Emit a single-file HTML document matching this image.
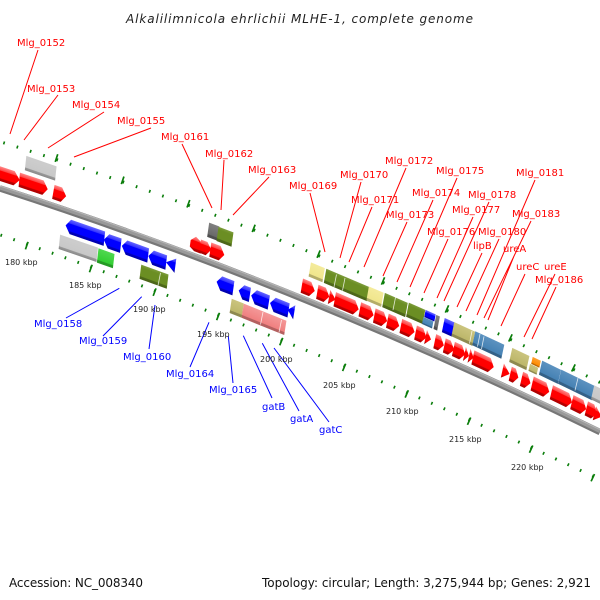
<!DOCTYPE html>
<html><head><meta charset="utf-8"><style>html,body{margin:0;padding:0;background:#fff}svg{display:block}text{font-family:"DejaVu Sans","Liberation Sans",sans-serif}.r text{fill:#f00;font-size:10px}.b text{fill:#00f;font-size:10px}.k text{fill:#222;font-size:8px}</style></head><body>
<svg width="600" height="600" viewBox="0 0 600 600" xmlns="http://www.w3.org/2000/svg">
<defs>
<linearGradient id="R" x1="0" y1="0" x2="0" y2="1"><stop offset="0" stop-color="#f88"/><stop offset=".26" stop-color="#f44"/><stop offset=".3" stop-color="#f00"/><stop offset=".78" stop-color="#f00"/><stop offset=".84" stop-color="#b00"/><stop offset="1" stop-color="#a00"/></linearGradient>
<linearGradient id="B" x1="0" y1="0" x2="0" y2="1"><stop offset="0" stop-color="#66f"/><stop offset=".26" stop-color="#33f"/><stop offset=".3" stop-color="#00f"/><stop offset=".78" stop-color="#00f"/><stop offset=".84" stop-color="#00b"/><stop offset="1" stop-color="#00a"/></linearGradient>
<linearGradient id="G" x1="0" y1="0" x2="0" y2="1"><stop offset="0" stop-color="#ccc"/><stop offset=".2" stop-color="#ccc"/><stop offset=".78" stop-color="#c8c8c8"/><stop offset=".82" stop-color="#999"/><stop offset="1" stop-color="#888"/></linearGradient>
<linearGradient id="O" x1="0" y1="0" x2="0" y2="1"><stop offset="0" stop-color="#7d9c3c"/><stop offset=".2" stop-color="#6b8e23"/><stop offset=".78" stop-color="#6b8e23"/><stop offset=".82" stop-color="#4f6a1a"/><stop offset="1" stop-color="#4a6318"/></linearGradient>
<linearGradient id="K" x1="0" y1="0" x2="0" y2="1"><stop offset="0" stop-color="#cbc47e"/><stop offset=".78" stop-color="#bdb76b"/><stop offset=".82" stop-color="#8e8950"/><stop offset="1" stop-color="#8e8950"/></linearGradient>
<linearGradient id="Y" x1="0" y1="0" x2="0" y2="1"><stop offset="0" stop-color="#f4eb9c"/><stop offset=".78" stop-color="#f0e68c"/><stop offset=".82" stop-color="#b4ad69"/><stop offset="1" stop-color="#b4ad69"/></linearGradient>
<linearGradient id="S" x1="0" y1="0" x2="0" y2="1"><stop offset="0" stop-color="#5c92c0"/><stop offset=".78" stop-color="#4682b4"/><stop offset=".82" stop-color="#346187"/><stop offset="1" stop-color="#346187"/></linearGradient>
<linearGradient id="P" x1="0" y1="0" x2="0" y2="1"><stop offset="0" stop-color="#f49898"/><stop offset=".78" stop-color="#f08080"/><stop offset=".82" stop-color="#b46060"/><stop offset="1" stop-color="#b46060"/></linearGradient>
<linearGradient id="L" x1="0" y1="0" x2="0" y2="1"><stop offset="0" stop-color="#50d850"/><stop offset=".78" stop-color="#32cd32"/><stop offset=".82" stop-color="#259a25"/><stop offset="1" stop-color="#259a25"/></linearGradient>
<linearGradient id="N" x1="0" y1="0" x2="0" y2="1"><stop offset="0" stop-color="#ffa030"/><stop offset=".78" stop-color="#ff8c00"/><stop offset=".82" stop-color="#bf6900"/><stop offset="1" stop-color="#bf6900"/></linearGradient>
<linearGradient id="D" x1="0" y1="0" x2="0" y2="1"><stop offset="0" stop-color="#808080"/><stop offset=".78" stop-color="#696969"/><stop offset=".82" stop-color="#4f4f4f"/><stop offset="1" stop-color="#4f4f4f"/></linearGradient>
</defs>

<text x="126" y="23" font-size="12" font-style="italic" fill="#222" textLength="347" lengthAdjust="spacing">Alkalilimnicola ehrlichii MLHE-1, complete genome</text>

<!-- ticks -->
<g fill="none" stroke="#0a7d0a">
<path d="M3.3 142.7Q303.3 235.5 603.3 384.1" stroke-width="3" stroke-dasharray="1.6 12.36"/>
<path d="M3.3 141.2Q303.3 234 603.3 382.6" stroke-width="8" stroke-dasharray="1.7 68.1" stroke-dashoffset="-55"/>
<path d="M.5 235Q300.5 338.4 600.5 479.8" stroke-width="3" stroke-dasharray="1.6 12.0"/>
<path d="M.5 236.5Q300.5 339.9 600.5 481.3" stroke-width="8" stroke-dasharray="1.7 66.3" stroke-dashoffset="-27"/>
</g>

<!-- backbone -->
<g fill="none">
<path d="M0 188.5Q300 285.1 600 432.1" stroke="#777" stroke-width="6.5"/>
<path d="M0 187.5Q300 284.1 600 431.1" stroke="#999" stroke-width="4"/>
<path d="M0 186Q300 282.6 600 429.6" stroke="#b4b4b4" stroke-width="1.2"/>
</g>

<!-- upper row rects -->
<g>
<rect x="-16" y="-6.5" width="32" height="13" fill="url(#G)" transform="translate(40.7 168.3) rotate(19) skewX(13) scale(1 1.08)"/>
<rect x="-5.5" y="-6.5" width="11" height="13" fill="url(#D)" transform="translate(213.3 231.7) rotate(21) skewX(13) scale(1 1.08)"/>
<rect x="-8" y="-6.5" width="16" height="13" fill="url(#O)" transform="translate(225 236.7) rotate(21) skewX(13) scale(1 1.08)"/>
<rect x="-7.5" y="-6.5" width="15" height="13" fill="url(#Y)" transform="translate(316.7 272.3) rotate(22.5) skewX(13) scale(1 1.08)"/>
<rect x="-23.5" y="-6.5" width="47" height="13" fill="url(#O)" transform="translate(346.7 285) rotate(23) skewX(13) scale(1 1.08)"/>
<rect x="-8" y="-6.5" width="16" height="13" fill="url(#Y)" transform="translate(375 296.7) rotate(23) skewX(13) scale(1 1.08)"/>
<rect x="-12.5" y="-6.5" width="25" height="13" fill="url(#O)" transform="translate(395 305) rotate(23.5) skewX(13) scale(1 1.08)"/>
<rect x="-9" y="-6.5" width="18" height="13" fill="url(#O)" transform="translate(415.7 313.3) rotate(24) skewX(13) scale(1 1.08)"/>
<rect x="-5.5" y="-3.5" width="11" height="7" fill="url(#B)" transform="translate(430 315.7) rotate(24) skewX(13)"/>
<rect x="-5.5" y="-3.5" width="11" height="7" fill="url(#S)" transform="translate(427.7 322.7) rotate(24) skewX(13)"/>
<rect x="-2" y="-6.5" width="4" height="13" fill="url(#D)" transform="translate(436.7 322.7) rotate(24) skewX(13) scale(1 1.08)"/>
<rect x="-5.5" y="-6.5" width="11" height="13" fill="url(#B)" transform="translate(448.3 327.3) rotate(24.5) skewX(13) scale(1 1.08)"/>
<rect x="-11.5" y="-6.5" width="23" height="13" fill="url(#K)" transform="translate(463.3 334) rotate(24.5) skewX(13) scale(1 1.08)"/>
<rect x="-16" y="-6.5" width="32" height="13" fill="url(#S)" transform="translate(488.3 345) rotate(25) skewX(13) scale(1 1.08)"/>
<rect x="-9.5" y="-6.5" width="19" height="13" fill="url(#K)" transform="translate(519.3 359) rotate(25.5) skewX(13) scale(1 1.08)"/>
<rect x="-4.5" y="-3.5" width="9" height="7" fill="url(#N)" transform="translate(536 362.3) rotate(25.5) skewX(13)"/>
<rect x="-4.5" y="-3.5" width="9" height="7" fill="url(#K)" transform="translate(533.3 369.3) rotate(25.5) skewX(13)"/>
<rect x="-10.5" y="-6.5" width="21" height="13" fill="url(#S)" transform="translate(550 372.3) rotate(26) skewX(13) scale(1 1.08)"/>
<rect x="-19" y="-6.5" width="38" height="13" fill="url(#S)" transform="translate(576.7 385) rotate(26) skewX(13) scale(1 1.08)"/>
<rect x="-6" y="-6.5" width="12" height="13" fill="url(#G)" transform="translate(598 395) rotate(26) skewX(13) scale(1 1.08)"/>
</g>
<g stroke="#fff" stroke-width=".8" stroke-opacity=".8">
<path d="M336.5 274.5L334 287M345 278L342.5 290.5"/>
<path d="M395.5 297.5L393 310"/>
<path d="M472 331L469.5 343.5"/>
<path d="M480 334L477.5 346.5M484 336.5L481.5 349"/>
<path d="M578 378L575 390.5"/>
</g>

<!-- lower row rects -->
<g>
<rect x="-20" y="-6.5" width="40" height="13" fill="url(#G)" transform="translate(78.3 248.3) rotate(19) skewX(13) scale(1 1.08)"/>
<rect x="-8.5" y="-6.5" width="17" height="13" fill="url(#L)" transform="translate(105.7 258.3) rotate(19.5) skewX(13) scale(1 1.08)"/>
<rect x="-14.5" y="-6.5" width="29" height="13" fill="url(#O)" transform="translate(154 276.7) rotate(20) skewX(13) scale(1 1.08)"/>
<rect x="-6.5" y="-6.5" width="13" height="13" fill="url(#K)" transform="translate(236.7 308.3) rotate(21.5) skewX(13) scale(1 1.08)"/>
<rect x="-23" y="-6.5" width="46" height="13" fill="url(#P)" transform="translate(264 319.3) rotate(22) skewX(13) scale(1 1.08)"/>
</g>
<g stroke="#fff" stroke-width=".8" stroke-opacity=".8">
<path d="M160.5 273L158 285.5"/>
<path d="M263 312L260.5 324.5M281.5 320L279 332.5"/>
</g>

<!-- red arrows -->
<g fill="url(#R)">
<path transform="translate(9.3 176.7) rotate(18) skewX(13) scale(1 1.08)" d="M-11 -6.5H5L11 0L5 6.5H-11z"/>
<path transform="translate(33.5 184.5) rotate(18.5) skewX(13) scale(1 1.08)" d="M-15 -6.5H10L15 0L10 6.5H-15z"/>
<path transform="translate(59.5 194) rotate(19) skewX(13) scale(1 1.08)" d="M-6 -6.5H2L7 0L2 6.5H-7z"/>
<path transform="translate(196 244.3) rotate(21) skewX(13) scale(1 1.08)" d="M-6 -2L-1 -6.5L6 -3V6.5H-1L-6 4z"/>
<path transform="translate(205.7 247.7) rotate(21) skewX(13) scale(1 1.08)" d="M-6 -5.5H1L6 0L1 6.5H-6z"/>
<path transform="translate(217.3 252.3) rotate(21) skewX(13) scale(1 1.08)" d="M-7.5 -6.5H2.5L7.5 0L2.5 6.5H-7.5z"/>
<path transform="translate(308.3 288.3) rotate(22.5) skewX(13) scale(1 1.08)" d="M-7 -6.5H2L7 0L2 6.5H-7z"/>
<path transform="translate(323.3 294.3) rotate(22.5) skewX(13) scale(1 1.08)" d="M-6.5 -6.5H1.5L6.5 0L1.5 6.5H-6.5z"/>
<path transform="translate(332.3 298.3) rotate(23) skewX(13) scale(1 1.08)" d="M-3.5 -6.5L3.5 0L-3.5 6.5z"/>
<path transform="translate(346.7 304.3) rotate(23) skewX(13) scale(1 1.08)" d="M-13 -6.5H8L13 0L8 6.5H-13z"/>
<path transform="translate(366.7 312.3) rotate(23.5) skewX(13) scale(1 1.08)" d="M-7.5 -6.5H2.5L7.5 0L2.5 6.5H-7.5z"/>
<path transform="translate(380.7 318.3) rotate(23.5) skewX(13) scale(1 1.08)" d="M-7 -6.5H2L7 0L2 6.5H-7z"/>
<path transform="translate(393.3 323.3) rotate(24) skewX(13) scale(1 1.08)" d="M-6.5 -6.5H1.5L6.5 0L1.5 6.5H-6.5z"/>
<path transform="translate(407.7 329) rotate(24) skewX(13) scale(1 1.08)" d="M-7.5 -6.5H2.5L7.5 0L2.5 6.5H-7.5z"/>
<path transform="translate(421 335) rotate(24) skewX(13) scale(1 1.08)" d="M-6 -6.5H1L6 0L1 6.5H-6z"/>
<path transform="translate(428.3 338.3) rotate(24.5) skewX(13) scale(1 1.08)" d="M-3 -6.5L3 0L-3 6.5z"/>
<path transform="translate(439.3 343.3) rotate(24.5) skewX(13) scale(1 1.08)" d="M-5 -6.5H0L5 0L0 6.5H-5z"/>
<path transform="translate(449.3 347.7) rotate(24.5) skewX(13) scale(1 1.08)" d="M-5.5 -6.5H0L5.5 0L0 6.5H-5.5z"/>
<path transform="translate(459.3 351.7) rotate(25) skewX(13) scale(1 1.08)" d="M-6.5 -6.5H1.5L6.5 0L1.5 6.5H-6.5z"/>
<path transform="translate(466.7 355) rotate(25) skewX(13) scale(1 1.08)" d="M-2.5 -6.5L2.5 0L-2.5 6.5z"/>
<path transform="translate(471.3 356.7) rotate(25) skewX(13) scale(1 1.08)" d="M-2.5 -6.5L2.5 0L-2.5 6.5z"/>
<path transform="translate(483.3 362.3) rotate(25) skewX(13) scale(1 1.08)" d="M-11.5 -6.5H6.5L11.5 0L6.5 6.5H-11.5z"/>
<path transform="translate(506 372.3) rotate(25.5) skewX(13) scale(1 1.08)" d="M-4 -6.5L4 0L-4 6.5z"/>
<path transform="translate(514.3 375.7) rotate(25.5) skewX(13) scale(1 1.08)" d="M-4.5 -6.5H0L4.5 0L0 6.5H-4.5z"/>
<path transform="translate(526 381) rotate(26) skewX(13) scale(1 1.08)" d="M-5 -6.5H0L5 0L0 6.5H-5z"/>
<path transform="translate(540.7 387.7) rotate(26) skewX(13) scale(1 1.08)" d="M-9.5 -6.5H4.5L9.5 0L4.5 6.5H-9.5z"/>
<path transform="translate(561.7 397.3) rotate(26) skewX(13) scale(1 1.08)" d="M-11.5 -6.5H6.5L11.5 0L6.5 6.5H-11.5z"/>
<path transform="translate(579 405.7) rotate(26.5) skewX(13) scale(1 1.08)" d="M-8 -6.5H3L8 0L3 6.5H-8z"/>
<path transform="translate(591.7 411) rotate(26.5) skewX(13) scale(1 1.08)" d="M-6 -6.5H1L6 0L1 6.5H-6z"/>
<path transform="translate(598 415) rotate(26.5) skewX(13) scale(1 1.08)" d="M-4 -6.5L4 0L-4 6.5z"/>
</g>

<!-- blue arrows -->
<g fill="url(#B)">
<path transform="translate(85 232) rotate(19) skewX(13) scale(1 1.08)" d="M20.5 -6.5H-15.5L-20.5 0L-15.5 6.5H20.5z"/>
<path transform="translate(112.3 242.7) rotate(19.5) skewX(13) scale(1 1.08)" d="M9 -6.5H-4L-9 0L-4 6.5H9z"/>
<path transform="translate(135 250.7) rotate(20) skewX(13) scale(1 1.08)" d="M14 -6.5H-9L-14 0L-9 6.5H14z"/>
<path transform="translate(157.3 259.3) rotate(20) skewX(13) scale(1 1.08)" d="M9.5 -6.5H-4.5L-9.5 0L-4.5 6.5H9.5z"/>
<path transform="translate(170.7 264) rotate(20.5) skewX(13) scale(1 1.08)" d="M5 -6.5L-5 0L5 6.5z"/>
<path transform="translate(225 285) rotate(21) skewX(13) scale(1 1.08)" d="M9 -6.5H-4L-9 0L-4 6.5H9z"/>
<path transform="translate(244.3 292.7) rotate(21.5) skewX(13) scale(1 1.08)" d="M6 -6.5H-1L-6 0L-1 6.5H6z"/>
<path transform="translate(260 299) rotate(22) skewX(13) scale(1 1.08)" d="M9.5 -6.5H-4.5L-9.5 0L-4.5 6.5H9.5z"/>
<path transform="translate(279.3 306.7) rotate(22) skewX(13) scale(1 1.08)" d="M10 -6.5H-5L-10 0L-5 6.5H10z"/>
<path transform="translate(291 311) rotate(22) skewX(13) scale(1 1.08)" d="M3.5 -6.5L-3.5 0L3.5 6.5z"/>
</g>

<!-- red leader lines -->
<g stroke="#f00" stroke-width="1" fill="none">
<path d="M38 50L10 134M58 95L24 140M104 112L48 148M151 128L74 157M182 144L212 208M224 160L221 210M269 177L233 215M310 193L325 252M361 182L340 258M372 207L349 262M406 168L364 267M407 222L383 276M433 200L397 282M457 178L410 287M448 239L424 293M473 217L437 298M489 202L444 301M482 253L457 307M499 239L466 311M535 180L477 315M531 221L484 318M514 256L488 320M525 274L501 326M555 274L524 337M556 287L532 339"/>
</g>
<!-- blue leader lines -->
<g stroke="#00f" stroke-width="1" fill="none">
<path d="M119.3 288.3L66 318M141.7 296.7L103 336M155 305L149 349M209 322.3L190 367M228.3 336L233 383M243.3 335.7L272 398M262.3 343.3L299 411M274 348L329 422"/>
</g>

<g class="r">
<text x="17" y="46">Mlg_0152</text><text x="27" y="92">Mlg_0153</text><text x="72" y="108">Mlg_0154</text><text x="117" y="124">Mlg_0155</text><text x="161" y="140">Mlg_0161</text><text x="205" y="157">Mlg_0162</text><text x="248" y="173">Mlg_0163</text><text x="289" y="189">Mlg_0169</text><text x="340" y="178">Mlg_0170</text><text x="351" y="203">Mlg_0171</text><text x="385" y="164">Mlg_0172</text><text x="386" y="218">Mlg_0173</text><text x="412" y="196">Mlg_0174</text><text x="436" y="174">Mlg_0175</text><text x="427" y="235">Mlg_0176</text><text x="452" y="213">Mlg_0177</text><text x="468" y="198">Mlg_0178</text><text x="473" y="249">lipB</text><text x="478" y="235">Mlg_0180</text><text x="503" y="252">ureA</text><text x="516" y="176">Mlg_0181</text><text x="512" y="217">Mlg_0183</text><text x="516" y="270">ureC</text><text x="544" y="270">ureE</text><text x="535" y="283">Mlg_0186</text>
</g>
<g class="b">
<text x="34" y="327">Mlg_0158</text><text x="79" y="344">Mlg_0159</text><text x="123" y="360">Mlg_0160</text><text x="166" y="377">Mlg_0164</text><text x="209" y="393">Mlg_0165</text><text x="262" y="410">gatB</text><text x="290" y="422">gatA</text><text x="319" y="433">gatC</text>
</g>
<g class="k">
<text x="5" y="265">180 kbp</text><text x="69" y="288">185 kbp</text><text x="133" y="312">190 kbp</text><text x="197" y="337">195 kbp</text><text x="260" y="362">200 kbp</text><text x="323" y="388">205 kbp</text><text x="386" y="414">210 kbp</text><text x="449" y="442">215 kbp</text><text x="511" y="470">220 kbp</text>
</g>
<text x="9" y="587" font-size="12" fill="#111" textLength="134">Accession: NC_008340</text>
<text x="262" y="587" font-size="12" fill="#111" textLength="329">Topology: circular; Length: 3,275,944 bp; Genes: 2,921</text>
</svg>
</body></html>
